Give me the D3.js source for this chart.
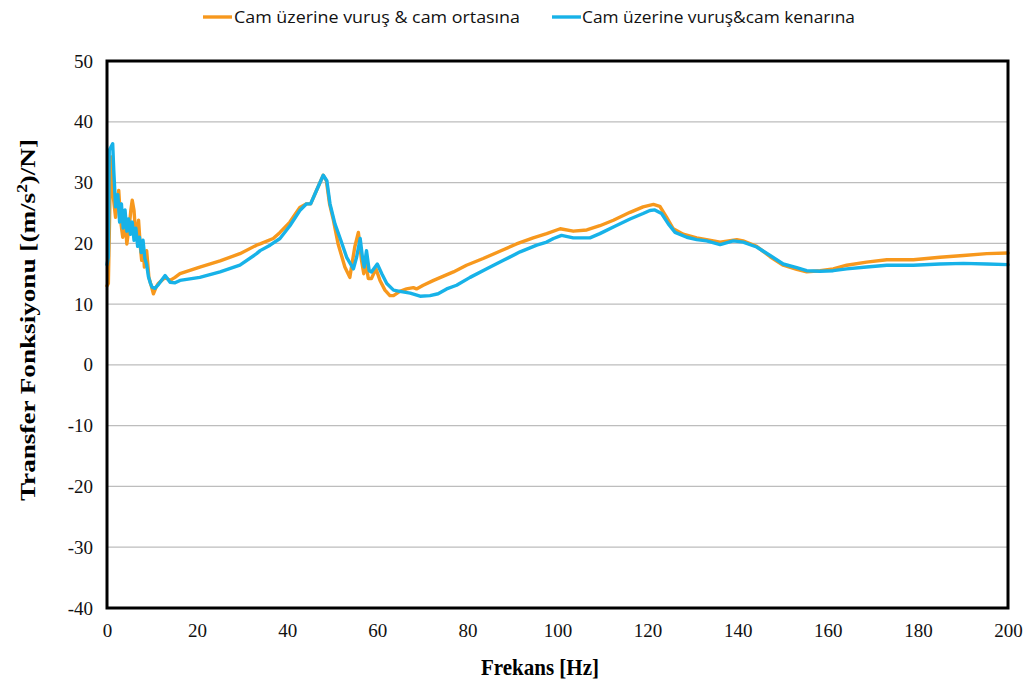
<!DOCTYPE html>
<html>
<head>
<meta charset="utf-8">
<script src="https://cdn.jsdelivr.net/npm/d3@7"></script>
<style>
  html, body { margin: 0; padding: 0; background: #fff; }
  svg { display: block; }
  .tick text { font-family: 'Liberation Serif', 'Times New Roman', serif; }
</style>
</head>
<body>
<svg id="chart" width="1033" height="694"></svg>
<script>
// Transfer function of the glass panel, measured at two pick-up positions
const seriesNames = ["Cam üzerine vuruş & cam ortasına", "Cam üzerine vuruş&cam kenarına"];
const seriesColors = ["#F7981D", "#17B2E8"];

const xTicks = [0, 20, 40, 60, 80, 100, 120, 140, 160, 180, 200];
const yTicks = [-40, -30, -20, -10, 0, 10, 20, 30, 40, 50];

// Series 1: impact on glass, sensor at glass centre
const centreFreq = [0, 0.3, 0.8, 1.0, 1.4, 1.9, 2.3, 2.6, 3.0, 3.3, 3.5, 4.0, 4.4, 5.0, 5.3, 5.6, 6.0, 6.2, 6.6, 7.0,
  7.4, 7.7, 8.0, 8.3, 8.8, 9.3, 9.9, 10.3, 10.9, 11.4, 12.9, 14.0, 15.1, 16.2, 20.6, 25.1, 29.5, 33.2, 34.0, 36.9,
  38.4, 40.6, 42.8, 44.3, 45.2, 46.5, 48.0, 48.7, 49.4, 50.2, 51.3, 52.8, 53.9, 55.0, 55.8, 56.5, 57.0, 57.5, 58.0, 58.7,
  59.7, 60.6, 61.7, 62.8, 63.6, 65.0, 66.5, 68.0, 68.7, 70.2, 72.5, 74.7, 76.9, 79.8, 83.5, 87.2, 90.9, 94.6, 97.6, 100.6,
  103.5, 106.5, 109.4, 112.4, 116.1, 119.0, 121.3, 122.7, 124.2, 125.7, 127.9, 130.9, 133.1, 136.1, 139.8, 141.2, 144.2, 147.2, 150.1, 153.1,
  155.3, 158.3, 161.2, 164.2, 168.6, 173.1, 179.0, 184.9, 190.1, 195.3, 200];
const centreValue = [13.0, 13.4, 33.1, 34.2, 27.6, 24.3, 27.0, 28.7, 24.0, 22.1, 21.0, 24.3, 19.9, 23.2, 25.5, 27.1, 25.4, 23.2, 21.0, 23.8,
  19.4, 17.2, 19.9, 16.1, 18.8, 14.4, 12.8, 11.7, 12.8, 13.4, 14.4, 13.9, 14.4, 15.0, 16.1, 17.1, 18.3, 19.7, 19.9, 20.8,
  21.8, 23.5, 25.9, 26.5, 26.5, 28.7, 31.2, 30.3, 26.5, 24.0, 19.9, 16.1, 14.4, 19.4, 21.8, 17.2, 15.0, 16.6, 14.2, 14.2,
  15.8, 13.9, 12.3, 11.4, 11.4, 12.1, 12.5, 12.7, 12.5, 13.1, 13.9, 14.6, 15.3, 16.4, 17.5, 18.7, 19.9, 20.9, 21.6, 22.4,
  22.0, 22.2, 22.9, 23.8, 25.1, 26.0, 26.4, 26.1, 24.3, 22.4, 21.5, 20.9, 20.6, 20.2, 20.6, 20.4, 19.5, 17.8, 16.4, 15.7,
  15.3, 15.5, 15.8, 16.4, 16.9, 17.3, 17.3, 17.7, 18.0, 18.3, 18.4];

// Series 2: impact on glass, sensor at glass edge
const edgeFreq = [0, 0.3, 0.5, 1.26, 1.5, 1.9, 2.4, 2.8, 3.2, 3.6, 4.0, 4.4, 4.8, 5.2, 5.6, 6.0, 6.4, 6.8, 7.2, 7.6,
  8.0, 8.4, 8.8, 9.2, 9.6, 10.0, 10.65, 11.5, 12.9, 14.0, 15.1, 16.2, 20.6, 25.1, 29.5, 33.2, 34.0, 36.2, 38.4, 40.6,
  42.8, 44.3, 45.2, 46.5, 48.0, 48.8, 49.5, 50.6, 51.9, 53.2, 54.7, 55.4, 56.2, 56.7, 57.1, 57.6, 58.2, 58.7, 60.0, 61.0,
  62.1, 63.6, 65.0, 67.3, 69.5, 71.7, 73.5, 75.4, 77.6, 80.6, 84.3, 88.0, 91.7, 95.4, 97.6, 99.1, 100.9, 103.5, 107.2, 109.4,
  112.4, 116.1, 119.0, 120.5, 121.6, 123.1, 124.6, 126.1, 128.7, 130.9, 133.1, 136.1, 139.0, 141.2, 144.2, 147.2, 150.1, 153.1, 155.3, 158.3,
  161.2, 164.2, 168.6, 173.1, 179.0, 184.9, 190.1, 195.3, 200];
const edgeValue = [16.5, 17.7, 35.3, 36.4, 32.0, 26.0, 28.0, 23.5, 26.5, 22.5, 25.5, 22.0, 24.0, 21.5, 23.5, 20.5, 22.5, 19.5, 21.0, 18.5,
  20.5, 17.5, 16.5, 14.5, 13.5, 12.8, 12.6, 13.3, 14.7, 13.6, 13.5, 13.9, 14.4, 15.3, 16.4, 18.3, 18.8, 19.7, 20.8, 22.9,
  25.4, 26.5, 26.5, 28.7, 31.2, 30.3, 26.5, 23.2, 20.5, 17.7, 15.8, 17.7, 20.8, 17.7, 16.1, 18.8, 15.5, 15.3, 16.6, 15.0,
  13.4, 12.3, 12.1, 11.8, 11.3, 11.4, 11.7, 12.5, 13.1, 14.4, 15.8, 17.2, 18.6, 19.7, 20.2, 20.8, 21.3, 20.9, 20.9, 21.6,
  22.7, 24.0, 24.9, 25.4, 25.5, 24.9, 23.2, 21.8, 21.0, 20.6, 20.4, 19.8, 20.4, 20.2, 19.4, 18.0, 16.6, 16.0, 15.5, 15.4,
  15.5, 15.8, 16.1, 16.4, 16.4, 16.6, 16.7, 16.6, 16.5];

const svg = d3.select("#chart");
const plot = { left: 107, right: 1008, top: 61, bottom: 608 };

const x = d3.scaleLinear().domain([0, 200]).range([plot.left, plot.right]);
const y = d3.scaleLinear().domain([-40, 50]).range([plot.bottom, plot.top]);

const serif = "'Liberation Serif', 'Times New Roman', serif";

// horizontal grid
svg.append("g")
  .selectAll("line")
  .data(yTicks.filter(t => t > -40 && t < 50))
  .join("line")
  .attr("x1", plot.left).attr("x2", plot.right)
  .attr("y1", d => y(d)).attr("y2", d => y(d))
  .attr("stroke", "#BDBDBD").attr("stroke-width", 1.2);

// plain hyphen for negatives, as in the printed axis
const plainNumber = d => String(d);

// y axis labels
const yAxis = d3.axisLeft(y).tickValues(yTicks).tickSize(0).tickPadding(14).tickFormat(plainNumber);
svg.append("g")
  .attr("transform", `translate(${plot.left},0)`)
  .call(yAxis)
  .attr("font-family", serif).attr("font-size", 19)
  .call(g => g.select(".domain").remove())
  .call(g => g.selectAll("text").style("font-family", serif).attr("fill", "#111"));

// x axis labels
const xAxis = d3.axisBottom(x).tickValues(xTicks).tickSize(0).tickPadding(16).tickFormat(plainNumber);
svg.append("g")
  .attr("transform", `translate(0,${plot.bottom})`)
  .call(xAxis)
  .attr("font-family", serif).attr("font-size", 19)
  .call(g => g.select(".domain").remove())
  .call(g => g.selectAll("text").style("font-family", serif).attr("fill", "#111"));

// data lines
const series = [
  { freq: centreFreq, value: centreValue, color: seriesColors[0] },
  { freq: edgeFreq, value: edgeValue, color: seriesColors[1] }
];
const line = d3.line().x(d => x(d[0])).y(d => y(d[1]));
svg.append("g")
  .selectAll("path")
  .data(series)
  .join("path")
  .attr("d", s => line(s.freq.map((f, i) => [f, s.value[i]])))
  .attr("fill", "none")
  .attr("stroke", s => s.color)
  .attr("stroke-width", 3.4)
  .attr("stroke-linejoin", "round")
  .attr("stroke-linecap", "round");

// plot frame
svg.append("rect")
  .attr("x", plot.left).attr("y", plot.top)
  .attr("width", plot.right - plot.left).attr("height", plot.bottom - plot.top)
  .attr("fill", "none").attr("stroke", "#000").attr("stroke-width", 3);

// axis titles
svg.append("text")
  .attr("x", 540).attr("y", 675)
  .attr("text-anchor", "middle")
  .attr("font-family", serif)
  .attr("font-weight", "bold").attr("font-size", 24)
  .attr("textLength", 118).attr("lengthAdjust", "spacingAndGlyphs")
  .text("Frekans [Hz]");

const yTitle = svg.append("text")
  .attr("transform", "translate(35,320) rotate(-90)")
  .attr("text-anchor", "middle")
  .attr("font-family", serif)
  .attr("font-weight", "bold").attr("font-size", 22)
  .attr("textLength", 362).attr("lengthAdjust", "spacingAndGlyphs");
yTitle.append("tspan").text("Transfer Fonksiyonu  [(m/s");
yTitle.append("tspan").attr("dy", -8).attr("font-size", 14).text("2");
yTitle.append("tspan").attr("dy", 8).text(")/N]");

// legend
const legendItems = [
  { name: seriesNames[0], color: seriesColors[0], x0: 203, tx: 234, len: 286 },
  { name: seriesNames[1], color: seriesColors[1], x0: 552, tx: 582, len: 273 }
];
const lg = svg.append("g").selectAll("g").data(legendItems).join("g");
lg.append("line")
  .attr("x1", d => d.x0).attr("x2", d => d.x0 + 29)
  .attr("y1", 17).attr("y2", 17)
  .attr("stroke", d => d.color).attr("stroke-width", 3.4);
lg.append("text")
  .attr("x", d => d.tx).attr("y", 23)
  .attr("font-family", "'Open Sans', 'Noto Sans', sans-serif")
  .attr("font-size", 16).attr("fill", "#111")
  .attr("textLength", d => d.len).attr("lengthAdjust", "spacingAndGlyphs")
  .text(d => d.name);
</script>
</body>
</html>
